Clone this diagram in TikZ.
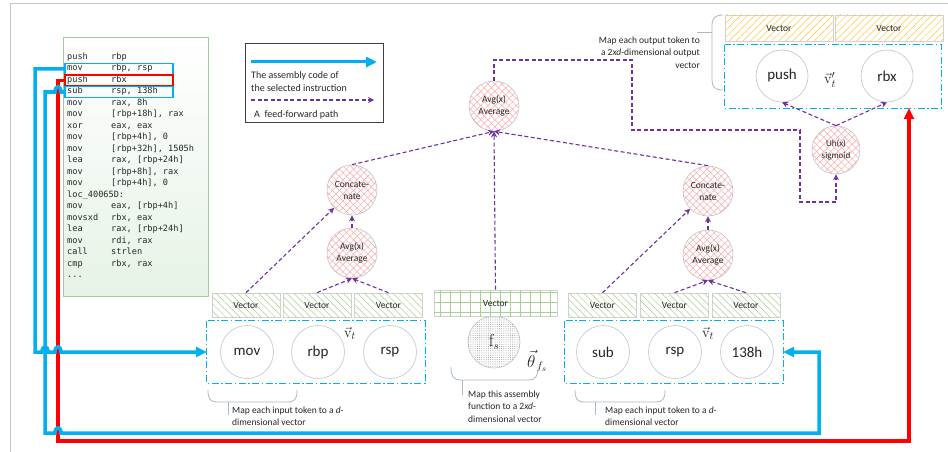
\documentclass[tikz,border=0pt]{standalone}
\usepackage[no-math]{fontspec}
\setmainfont{Carlito}
\setmonofont{DejaVu Sans Mono}
\usetikzlibrary{arrows.meta,patterns.meta}

\definecolor{selblue}{RGB}{0,176,240}
\definecolor{selred}{RGB}{255,0,0}
\definecolor{ffpurple}{RGB}{112,48,160}
\definecolor{ringgray}{RGB}{196,204,212}
\definecolor{hatchred}{RGB}{250,170,170}
\definecolor{hatchgreen}{RGB}{169,209,142}
\definecolor{hatchyellow}{RGB}{255,200,60}
\definecolor{bracegray}{RGB}{170,184,198}
\definecolor{inktext}{RGB}{38,38,38}
\definecolor{codeframe}{RGB}{160,205,160}
\definecolor{codefill}{RGB}{230,243,230}
\definecolor{framegray}{RGB}{200,200,200}

\tikzset{
  tok/.style={circle, draw=ringgray, line width=0.7pt, fill=white,
    minimum size=53pt, inner sep=0pt, text=inktext,
    font=\fontsize{15}{15}\selectfont},
  op/.style={circle, draw=ringgray, line width=0.7pt, fill=white,
    minimum size=50pt, inner sep=0pt, align=center, text=inktext,
    font=\fontsize{9.5}{12}\selectfont,
    postaction={pattern={Lines[angle=45,distance=5pt,line width=0.5pt]}, pattern color=hatchred},
    postaction={pattern={Lines[angle=-45,distance=5pt,line width=0.5pt]}, pattern color=hatchred}},
  vecbar/.style={rectangle, draw=gray!35, line width=0.6pt, fill=white,
    minimum width=68pt, minimum height=24pt, inner sep=0pt, text=inktext,
    font=\fontsize{9.5}{10}\selectfont,
    postaction={pattern={Lines[angle=-45,distance=5pt,line width=0.5pt]}, pattern color=hatchgreen}},
  gridbar/.style={rectangle, draw=gray!35, line width=0.6pt, fill=white,
    minimum width=123pt, minimum height=26pt, inner sep=0pt, text=inktext,
    font=\fontsize{9.5}{10}\selectfont,
    postaction={pattern={Hatch[distance=10pt,line width=0.5pt]}, pattern color=hatchgreen}},
  outbar/.style={rectangle, draw=gray!35, line width=0.6pt, fill=white,
    minimum width=108pt, minimum height=26pt, inner sep=0pt, text=inktext,
    font=\fontsize{9.5}{10}\selectfont,
    postaction={pattern={Lines[angle=45,distance=5pt,line width=0.5pt]}, pattern color=hatchyellow}},
  tokenbox/.style={rectangle, minimum width=218pt, minimum height=62pt, inner sep=0pt},
  boxline/.style={draw=selblue, color=selblue, line width=1.1pt,
    dash pattern=on 7pt off 2.5pt on 1.5pt off 2.5pt},
  ff/.style={draw=ffpurple, line width=1.1pt, dash pattern=on 4pt off 2.5pt,
    -{Stealth[length=6pt,width=6pt]}},
  sel/.style={draw=selblue, line width=3.5pt, -{Triangle[length=11pt,width=10pt]}},
  selr/.style={draw=selred, line width=3.5pt, -{Triangle[length=11pt,width=10pt]}},
  hl/.style={rectangle, line width=1.3pt, minimum width=108pt, minimum height=11pt, inner sep=0pt},
  brace/.style={draw=bracegray, line width=0.8pt},
  note/.style={font=\fontsize{9.5}{12.5}\selectfont, text=inktext, inner sep=0pt, align=left},
  vlabel/.style={font=\fontsize{15}{15}\selectfont, text=inktext, inner sep=0pt}
}

\begin{document}
\begin{tikzpicture}[x=1pt,y=-1pt]
\useasboundingbox (0,0) rectangle (948,452);

% page frame
\draw[framegray, line width=0.8pt] (10,452) -- (10,3) -- (948,3);

% assembly listing
\node[rectangle, draw=codeframe, line width=1pt, top color=white, bottom color=codefill,
      minimum width=145pt, minimum height=258pt, inner sep=0pt] (codebox) at (135.5,167) {};
\node[anchor=north west, inner sep=0pt, text=inktext,
      font=\ttfamily\fontsize{8.6}{11.5}\selectfont] (code) at (67,51) {%
\begin{tabular}{@{}p{44pt}@{}l@{}}
push & rbp\\
mov & rbp, rsp\\
push & rbx\\
sub & rsp, 138h\\
mov & rax, 8h\\
mov & [rbp+18h], rax\\
xor & eax, eax\\
mov & [rbp+4h], 0\\
mov & [rbp+32h], 1505h\\
lea & rax, [rbp+24h]\\
mov & [rbp+8h], rax\\
mov & [rbp+4h], 0\\
\multicolumn{2}{@{}l@{}}{loc\_40065D:}\\
mov & eax, [rbp+4h]\\
movsxd & rbx, eax\\
lea & rax, [rbp+24h]\\
mov & rdi, rax\\
call & strlen\\
cmp & rbx, rax\\
... &
\end{tabular}};
\node[hl, draw=selblue] (hlA) at (119,69) {};
\node[hl, draw=selred] (hlB) at (119,80.5) {};
\node[hl, draw=selblue] (hlC) at (119,92) {};

% legend
\node[rectangle, draw=black!75, line width=0.9pt, minimum width=138pt, minimum height=79pt,
      inner sep=0pt] (legend) at (314,82.5) {};
\coordinate (lgA1) at (251,62);
\coordinate (lgA2) at (377,62);
\coordinate (lgB1) at (251,100);
\coordinate (lgB2) at (374,100);
\draw[sel, line width=3pt] (lgA1) -- (lgA2);
\draw[ff] (lgB1) -- (lgB2);
\node[anchor=north west, font=\fontsize{10}{13}\selectfont, text=inktext, inner sep=0pt, align=left]
  (lgtxt) at (251,71) {The assembly code of\\the selected instruction};
\node[anchor=west, font=\fontsize{10}{13}\selectfont, text=inktext, inner sep=0pt]
  (lgff) at (254,114.5) {A\ \ feed-forward path};

% token boxes (frames drawn separately)
\node[tokenbox] (inL) at (316,352) {};
\node[tokenbox] (inR) at (674,352) {};
\node[tokenbox, minimum width=216pt, minimum height=63pt] (outBox) at (833,76.5) {};
\draw[boxline] (inL.north west) rectangle (inL.south east);
\draw[boxline] (inR.north west) rectangle (inR.south east);
\draw[boxline] (outBox.north west) rectangle (outBox.south east);

% left input instruction
\node[tok] (tMov) at (247,352) {mov};
\node[tok] (tRbpL) at (318,352) {rbp};
\node[tok] (tRspL) at (390,352) {rsp};
\node[vlabel] (vtL) at (350,333) {$\vec{\mathrm{v}}_t$};
\node[vecbar] (vL1) at (246,305) {Vector};
\node[vecbar] (vL2) at (317,305) {Vector};
\node[vecbar] (vL3) at (388.5,305) {Vector};
\node[op] (avgL) at (352,253) {Avg(x)\\Average};
\node[op] (catL) at (352,190) {Concate-\\nate};

% right input instruction
\node[tok] (tSub) at (603,352) {sub};
\node[tok] (tRspR) at (675,352) {rsp};
\node[tok] (t138) at (747,352) {138h};
\node[vlabel] (vtR) at (708,333) {$\vec{\mathrm{v}}_t$};
\node[vecbar] (vR1) at (602.5,305) {Vector};
\node[vecbar] (vR2) at (674.5,305) {Vector};
\node[vecbar] (vR3) at (746,305) {Vector};
\node[op] (avgR) at (708,255) {Avg(x)\\Average};
\node[op] (catR) at (708,191) {Concate-\\nate};

% function embedding
\node[circle, draw=ringgray, line width=0.7pt, fill=white, minimum size=52pt, inner sep=0pt,
      text=inktext, font=\fontsize{16}{16}\selectfont,
      postaction={pattern={Dots[distance=2.2pt,radius=0.5pt]}, pattern color=gray!80}]
  (fs) at (494,342) {$\mathrm{f}_s$};
\node[vlabel, font=\fontsize{16}{16}\selectfont] (theta) at (537,361) {$\vec{\theta}_{\,f_s}$};
\node[gridbar] (vM) at (495.5,303) {Vector};
\node[op] (avgT) at (494,106) {Avg(x)\\Average};

% output instruction
\node[tok, minimum size=52pt] (oPush) at (782,76) {push};
\node[tok, minimum size=52pt] (oRbx) at (887,76) {rbx};
\node[vlabel] (vtO) at (830,80) {$\vec{\mathrm{v}}'_t$};
\node[outbar] (oV1) at (779,28) {Vector};
\node[outbar] (oV2) at (889,28) {Vector};
\node[op, minimum size=48pt, font=\fontsize{9}{12}\selectfont] (sig) at (836,150) {Uh(x)\\sigmoid};

% feed-forward paths
\draw[ff] (vL1.north) -- (catL.225);
\draw[ff] (vL2.north) -- (avgL.south);
\draw[ff] (vL3.north) -- (avgL.south);
\draw[ff] (avgL.north) -- (catL.south);
\draw[ff] (vR1.north) -- (catR.225);
\draw[ff] (vR2.north) -- (avgR.south);
\draw[ff] (vR3.north) -- (avgR.south);
\draw[ff] (avgR.north) -- (catR.south);
\draw[ff] (catL.north) -- (avgT.south);
\draw[ff] (vM.north) -- (avgT.south);
\draw[ff] (catR.north) -- (avgT.south);
\draw[ff] (avgT.north) -- (avgT.north |- 0,60) -- (632,60) -- (632,130) -- (800,130)
  -- (800,202) -- (sig.south |- 0,202) -- (sig.south);
\draw[ff] (sig.north) -- (oPush.south);
\draw[ff] (sig.north) -- (oRbx.south);

% braces and notes
\draw[brace] (208,390) .. controls (208,399) and (210,402) .. (218,402) -- (287,402)
  .. controls (295,402) and (297,399) .. (297,390);
\draw[brace] (228,402) -- (228,415);
\node[note, anchor=north west] (noteL) at (232,406.5)
  {Map each input token to a \textit{d}-\\dimensional vector};

\draw[brace] (575,390) .. controls (575,399) and (577,402) .. (585,402) -- (655,402)
  .. controls (663,402) and (665,399) .. (665,390);
\draw[brace] (595,402) -- (595,415);
\node[note, anchor=north west] (noteR) at (605,406.5)
  {Map each input token to a \textit{d}-\\dimensional vector};

\draw[brace] (451,367) .. controls (451,376) and (453,380) .. (461,380) -- (528,380)
  .. controls (536,380) and (538,376) .. (538,367);
\draw[brace] (462,380) -- (462,395);
\node[note, anchor=north west] (noteM) at (468,390.5)
  {Map this assembly\\function to a 2\textit{xd}-\\dimensional vector};

\draw[brace] (723,15) .. controls (715,15) and (712,18) .. (712,26) -- (712,80)
  .. controls (712,87) and (715,90) .. (723,90);
\draw[brace] (712,32) -- (697,32);
\node[note, anchor=north east, align=right] (noteO) at (700,36.5)
  {Map each output token to\\a 2\textit{xd}-dimensional output\\vector};

% selected instruction links
\draw[selr] (hlB.west) -- (58,80.5) -- (58,441) -- (909,441) -- (909,0 |- outBox.south);
\draw[sel] (hlA.west) -- (35,69) -- (35,352) -- (42,352)
  .. controls (42,345) and (48,345) .. (48,352) -- (55,352)
  .. controls (55,345) and (61,345) .. (61,352) -- (inL.west);
\draw[sel] (hlC.west) -- (61,92) .. controls (61,85) and (55,85) .. (55,92) -- (45,92)
  -- (45,433) -- (55,433) .. controls (55,426) and (61,426) .. (61,433)
  -- (819,433) -- (819,352) -- (inR.east);
\end{tikzpicture}
\end{document}
